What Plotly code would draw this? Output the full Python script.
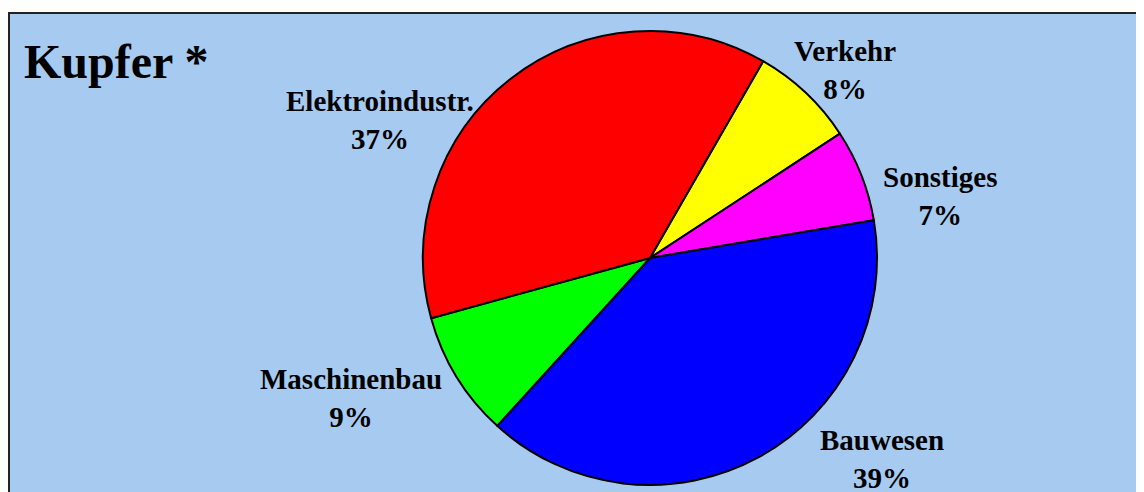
import plotly.graph_objects as go

# Data
categories = ["Verkehr", "Sonstiges", "Bauwesen", "Maschinenbau", "Elektroindustr."]
shares = [7.47, 6.56, 39.42, 8.97, 37.58]
share_labels = ["8%", "7%", "39%", "9%", "37%"]
colors = ["#FFFF00", "#FF00FF", "#0000FF", "#00FF00", "#FF0000"]
title_text = "Kupfer *"

W, H = 1144, 492
OFF = 8  # page body margin offset
cx, cy, r = 650 - OFF, 258 - OFF, 227

# label centers in pixels (page coords)
label_pos = [(845, 70), (940, 196), (882, 459), (351, 398), (380, 120)]

fig = go.Figure()
fig.add_trace(go.Pie(
    labels=categories,
    values=shares,
    sort=False,
    direction="clockwise",
    rotation=29.9,
    marker=dict(colors=colors, line=dict(color="black", width=2)),
    textinfo="none",
    hoverinfo="label",
    showlegend=False,
    domain=dict(x=[(cx - r) / W, (cx + r) / W], y=[1 - (cy + r) / H, 1 - (cy - r) / H]),
))

annotations = []
for cat, pct, (px, py) in zip(categories, share_labels, label_pos):
    annotations.append(dict(
        x=(px - OFF) / W, y=1 - (py - OFF) / H, xref="paper", yref="paper",
        xanchor="center", yanchor="middle", showarrow=False,
        text=f"{cat}<br>{pct}",
        font=dict(family="Liberation Serif", size=29, color="black", weight="bold"),
    ))
annotations.append(dict(
    x=(22 - OFF) / W, y=1 - (62 - OFF) / H, xref="paper", yref="paper",
    xanchor="left", yanchor="middle", showarrow=False,
    text=title_text,
    font=dict(family="Liberation Serif", size=48, color="black", weight="bold"),
))

fig.update_layout(
    width=W, height=H,
    margin=dict(l=0, r=0, t=0, b=0),
    paper_bgcolor="white",
    plot_bgcolor="white",
    annotations=annotations,
    shapes=[dict(
        type="rect", xref="paper", yref="paper", layer="below",
        x0=1 / W, x1=1.02, y0=-0.02, y1=1 - (13 - OFF) / H,
        fillcolor="#A6CAF0", line=dict(color="#222222", width=2),
    )],
)

fig.write_html("out.html")
